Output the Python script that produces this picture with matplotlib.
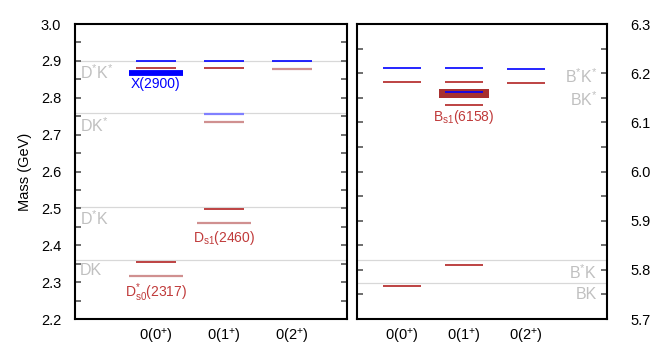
import matplotlib
matplotlib.use("Agg")
import matplotlib.pyplot as plt
from matplotlib.ticker import MultipleLocator, FormatStrFormatter

plt.rcParams['font.family'] = ['Liberation Sans', 'DejaVu Sans']
plt.rcParams['mathtext.fontset'] = 'custom'
plt.rcParams['mathtext.rm'] = 'Liberation Sans'
plt.rcParams['mathtext.it'] = 'Liberation Sans:italic'
plt.rcParams['mathtext.bf'] = 'Liberation Sans:bold'

# ---------------- data ----------------
categories = ["0(0$^{+}$)", "0(1$^{+}$)", "0(2$^{+}$)"]
cat_pos = [1, 2, 3]

# charm sector (left panel)
c_thr_names = ["DK", "D$^{*}$K", "DK$^{*}$", "D$^{*}$K$^{*}$"]
c_thr_mass = [2.360, 2.505, 2.758, 2.901]
c_blue_cat = [1, 2, 3]
c_blue_mass = [2.901, 2.901, 2.901]
c_lblue_cat = [2]
c_lblue_mass = [2.757]
c_red_cat = [1, 1, 2, 2]
c_red_mass = [2.881, 2.354, 2.881, 2.499]
c_lred_cat = [2, 3]
c_lred_mass = [2.735, 2.878]
c_exp_names = ["D$^{*}_{\\mathrm{s0}}$(2317)", "D$_{\\mathrm{s1}}$(2460)"]
c_exp_cat = [1, 2]
c_exp_mass = [2.3175, 2.460]
x2900_name = "X(2900)"
x2900_cat = 1
x2900_mass = 2.866

# bottom sector (right panel)
b_thr_names = ["BK", "B$^{*}$K"]
b_thr_mass = [5.773, 5.820]
b_up_names = ["B$^{*}$K$^{*}$", "BK$^{*}$"]
b_blue_cat = [1, 2, 3, 2]
b_blue_mass = [6.2105, 6.2105, 6.2085, 6.1615]
b_red_cat = [1, 2, 3, 1, 2, 2]
b_red_mass = [6.183, 6.183, 6.181, 5.767, 5.810, 6.135]
bs1_name = "B$_{\\mathrm{s1}}$(6158)"
bs1_cat = 2
bs1_low = 6.149
bs1_high = 6.168

# ---------------- style ----------------
BLUE = "#0000ff"
LBLUE = "#8080ff"
RED = "#b22222"
LRED = "#d09090"
BOX = "#a83030"
LABRED = "#c03a3a"
GRAY = "#c0c0c0"
GRIDC = "#d8d8d8"
HW = 0.3
HW_WIDE = 0.4
LW = 1.2
FS = 10.5
FS_LAB = 10
FS_THR = 11.5

fig = plt.figure(figsize=(6.65, 3.59), dpi=100)
ax1 = fig.add_axes([0.1128, 0.1114, 0.4090, 0.8216])
ax2 = fig.add_axes([0.5368, 0.1114, 0.3760, 0.8216])


def hline(ax, c, m, color, hw=HW, lw=LW, z=3):
    ax.plot([c - hw, c + hw], [m, m], color=color, lw=lw, solid_capstyle='butt', zorder=z)


# left panel
for n, m in zip(c_thr_names, c_thr_mass):
    ax1.axhline(m, color=GRIDC, lw=0.9, zorder=1)
    ax1.text(-0.12, m - 0.007, n, color=GRAY, fontsize=FS_THR, ha='left', va='top')
for c, m in zip(c_blue_cat, c_blue_mass):
    hline(ax1, c, m, BLUE)
for c, m in zip(c_lblue_cat, c_lblue_mass):
    hline(ax1, c, m, LBLUE, lw=1.6)
for c, m in zip(c_red_cat, c_red_mass):
    hline(ax1, c, m, RED)
for c, m in zip(c_lred_cat, c_lred_mass):
    hline(ax1, c, m, LRED, lw=1.6)
for n, c, m in zip(c_exp_names, c_exp_cat, c_exp_mass):
    hline(ax1, c, m, LRED, hw=HW_WIDE, lw=1.6)
    ax1.text(c, m - 0.016, n, color=LABRED, fontsize=FS_LAB, ha='center', va='top')
hline(ax1, x2900_cat, x2900_mass, BLUE, hw=HW_WIDE, lw=4.2)
ax1.text(x2900_cat, x2900_mass - 0.010, x2900_name, color=BLUE, fontsize=FS_LAB, ha='center', va='top')

ax1.set_xlim(-0.19, 3.81)
ax1.set_ylim(2.2, 3.0)
ax1.yaxis.set_major_locator(MultipleLocator(0.1))
ax1.yaxis.set_minor_locator(MultipleLocator(0.05))
ax1.yaxis.set_major_formatter(FormatStrFormatter('%.1f'))
ax1.tick_params(axis='y', which='both', direction='in', left=True, right=True,
                length=4, width=1.2, color='#555555', labelsize=FS, pad=10)
ax1.set_ylabel("Mass (GeV)", fontsize=FS, labelpad=6)

# right panel
for n, m in zip(b_thr_names, b_thr_mass):
    ax2.axhline(m, color=GRIDC, lw=0.9, zorder=1)
ax2.text(4.15, 5.814, b_thr_names[1], color=GRAY, fontsize=FS_THR, ha='right', va='top')
ax2.text(4.15, 5.766, b_thr_names[0], color=GRAY, fontsize=FS_THR, ha='right', va='top')
ax2.text(4.15, 6.192, b_up_names[0], color=GRAY, fontsize=FS_THR, ha='right', va='center')
ax2.text(4.15, 6.147, b_up_names[1], color=GRAY, fontsize=FS_THR, ha='right', va='center')

ax2.bar([bs1_cat], [bs1_high - bs1_low], bottom=[bs1_low], width=2 * HW_WIDE,
        color=BOX, edgecolor='none', zorder=2)
for c, m in zip(b_blue_cat, b_blue_mass):
    hline(ax2, c, m, BLUE)
for c, m in zip(b_red_cat, b_red_mass):
    hline(ax2, c, m, RED)
ax2.text(bs1_cat, bs1_low - 0.020, bs1_name, color=LABRED, fontsize=FS_LAB, ha='center', va='top')

ax2.set_xlim(0.274, 4.306)
ax2.set_ylim(5.7, 6.3)
ax2.yaxis.set_major_locator(MultipleLocator(0.1))
ax2.yaxis.set_minor_locator(MultipleLocator(0.05))
ax2.yaxis.set_major_formatter(FormatStrFormatter('%.1f'))
ax2.tick_params(axis='y', which='both', direction='in', left=True, right=True,
                labelleft=False, labelright=True,
                length=4, width=1.2, color='#555555', labelsize=FS, pad=17)

for ax in (ax1, ax2):
    ax.set_xticks(cat_pos)
    ax.set_xticklabels(categories, fontsize=FS)
    ax.tick_params(axis='x', length=0, pad=6)
    for s in ax.spines.values():
        s.set_linewidth(1.5)
        s.set_color('black')

fig.savefig("out.png", dpi=100)
